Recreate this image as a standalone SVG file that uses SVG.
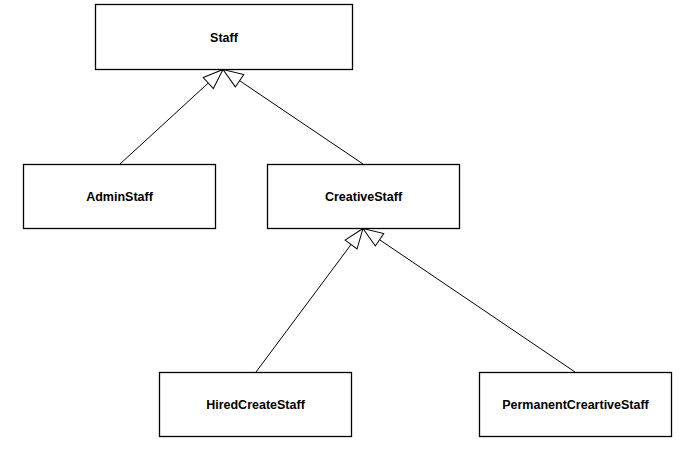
<svg xmlns="http://www.w3.org/2000/svg" width="689" height="449" viewBox="0 0 689 449">
<style>
.box{fill:#fff;stroke:#000;stroke-width:1.3}
.lbl{font-family:"Liberation Sans",Arial,sans-serif;font-weight:bold;font-size:12.5px;text-anchor:middle;fill:#000}
.conn{stroke:#000;stroke-width:1;fill:none}
</style>
<defs>
<marker id="gen" markerUnits="userSpaceOnUse" markerWidth="24" markerHeight="18" viewBox="-21 -9 22 18" refX="0" refY="0" orient="auto">
<path d="M-20,-7.5 L0,0 L-20,7.5 Z" fill="#fff" stroke="#000" stroke-width="1"/>
</marker>
</defs>
<rect width="689" height="449" fill="#fff"/>
<g id="connectors">
<line class="conn" x1="120" y1="164" x2="223" y2="69.5" marker-end="url(#gen)"/>
<line class="conn" x1="363" y1="164" x2="223" y2="69.5" marker-end="url(#gen)"/>
<line class="conn" x1="256" y1="372" x2="363" y2="228.5" marker-end="url(#gen)"/>
<line class="conn" x1="575" y1="372" x2="363" y2="228.5" marker-end="url(#gen)"/>
</g>
<g id="staff"><rect class="box" x="95.5" y="4.5" width="257" height="65"/><text class="lbl" x="224" y="41.5">Staff</text></g>
<g id="adminstaff"><rect class="box" x="23.5" y="164.5" width="192" height="64"/><text class="lbl" x="119.5" y="200.5">AdminStaff</text></g>
<g id="creativestaff"><rect class="box" x="267.5" y="164.5" width="192" height="64"/><text class="lbl" x="363.5" y="200.5">CreativeStaff</text></g>
<g id="hiredcreatestaff"><rect class="box" x="159.5" y="372.5" width="192" height="64"/><text class="lbl" x="255.5" y="408.5">HiredCreateStaff</text></g>
<g id="permanentcreartivestaff"><rect class="box" x="479.5" y="372.5" width="192" height="64"/><text class="lbl" x="575.5" y="408.5">PermanentCreartiveStaff</text></g>
</svg>
